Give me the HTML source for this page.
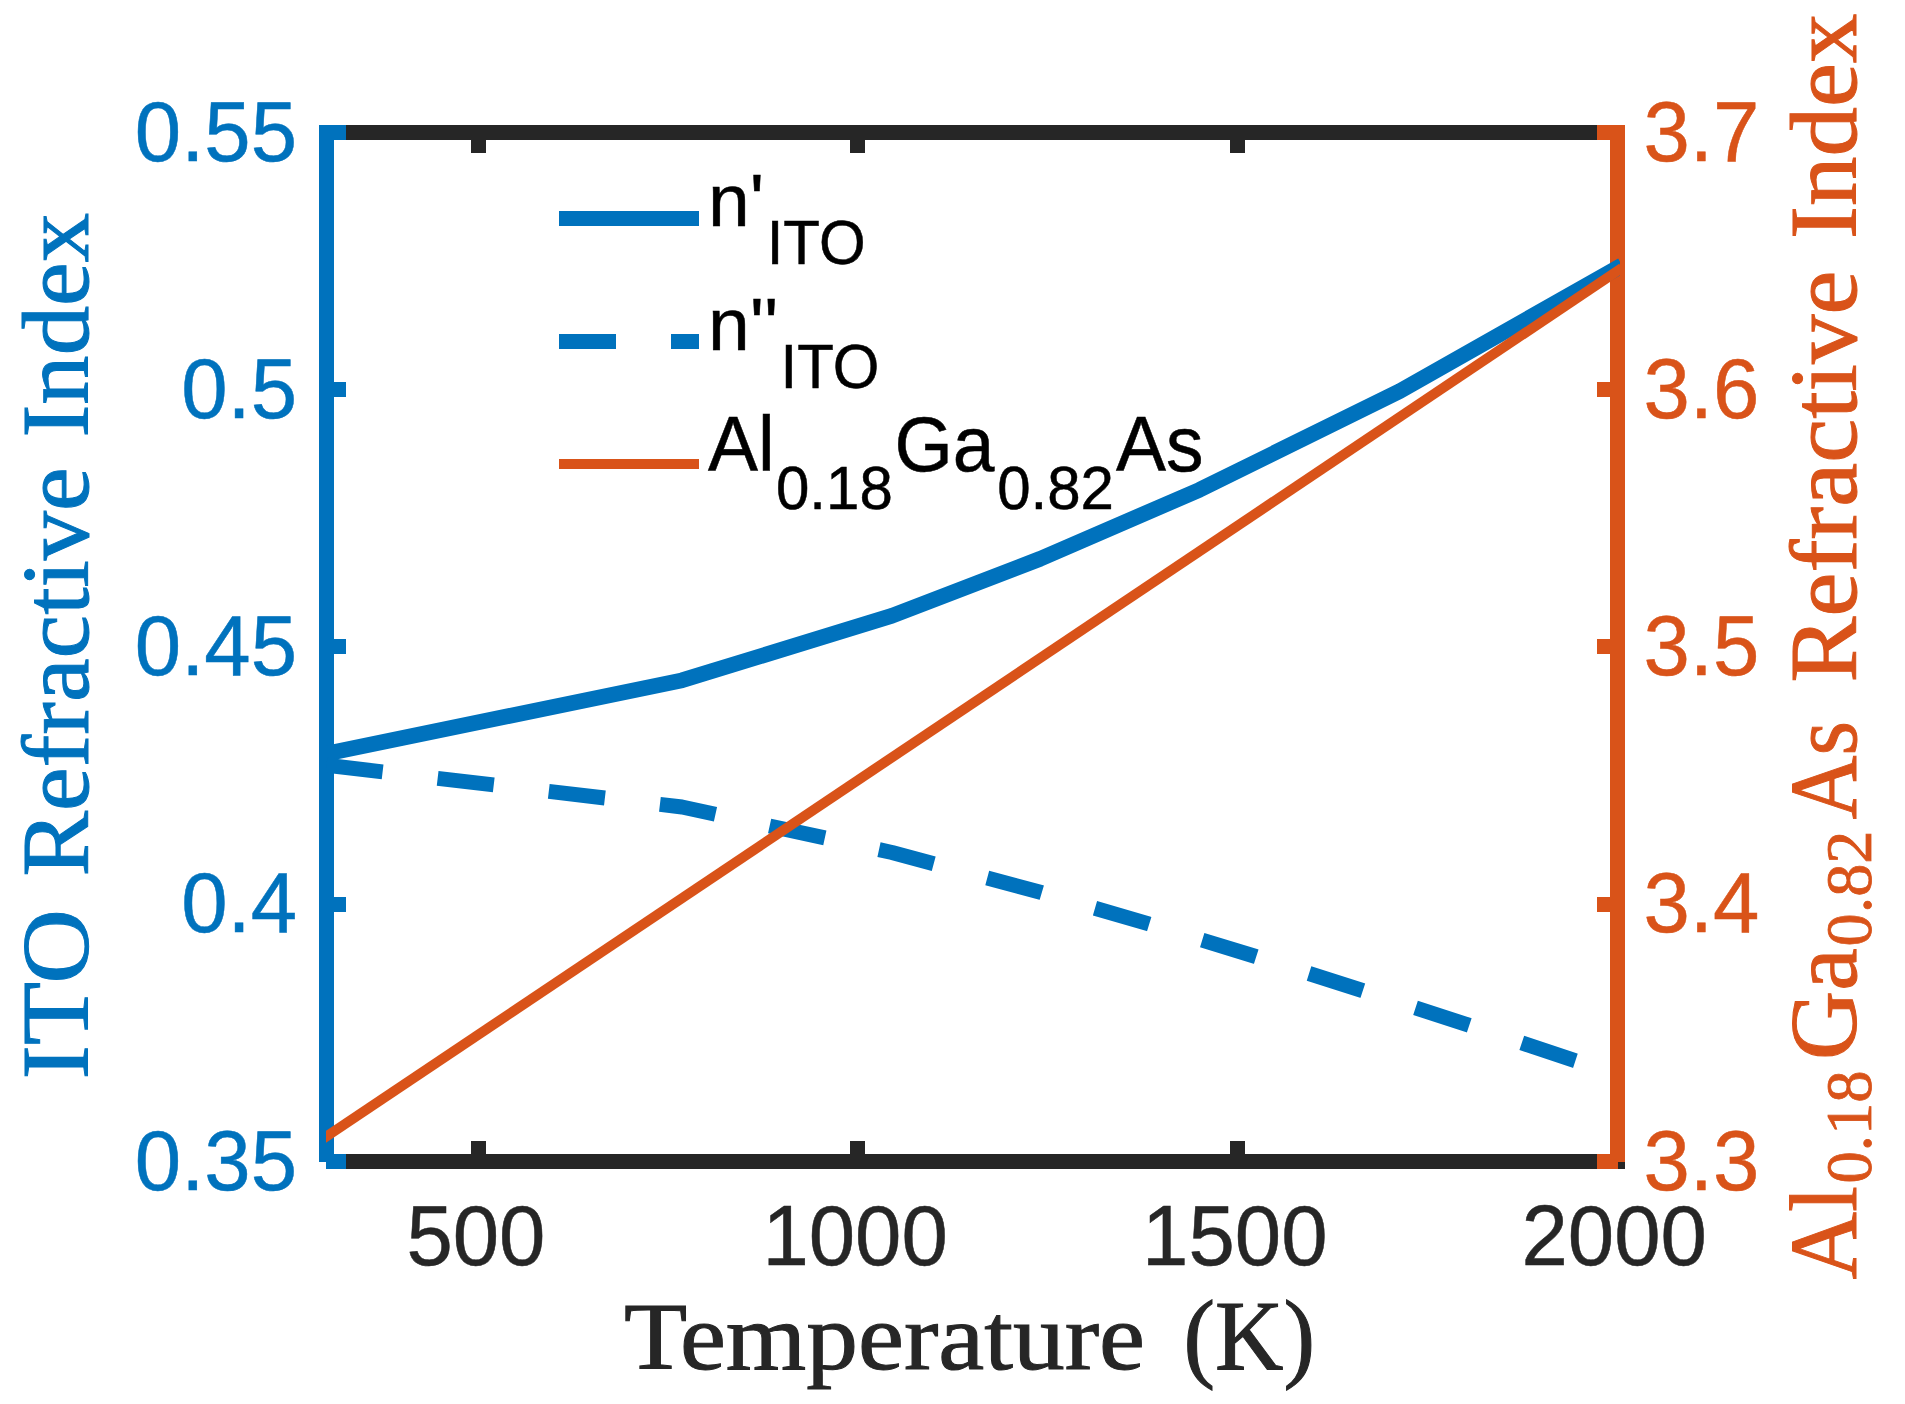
<!DOCTYPE html>
<html lang="en"><head><meta charset="utf-8"><title>Refractive index vs temperature</title>
<style>html,body{margin:0;padding:0;background:#fff}svg{display:block}.t{font-family:"Liberation Sans",sans-serif}.s{font-family:"Liberation Serif",serif}</style></head><body>
<svg width="1905" height="1404" viewBox="0 0 1905 1404">
<rect width="1905" height="1404" fill="#fff"/>
<g shape-rendering="crispEdges">
<rect x="346" y="125" width="1251" height="15" fill="#262626"/>
<rect x="346" y="1154" width="1251" height="15" fill="#262626"/>
<rect x="471.0" y="139" width="15" height="14" fill="#262626"/>
<rect x="471.0" y="1141" width="15" height="14" fill="#262626"/>
<rect x="850.0" y="139" width="15" height="14" fill="#262626"/>
<rect x="850.0" y="1141" width="15" height="14" fill="#262626"/>
<rect x="1230.0" y="139" width="15" height="14" fill="#262626"/>
<rect x="1230.0" y="1141" width="15" height="14" fill="#262626"/>
<rect x="319" y="125" width="15" height="1036.5" fill="#0072BD"/>
<rect x="319" y="125" width="27" height="15" fill="#0072BD"/>
<rect x="326" y="1154" width="20" height="15" fill="#0072BD"/>
<rect x="333" y="382.0" width="13" height="15" fill="#0072BD"/>
<rect x="333" y="639.0" width="13" height="15" fill="#0072BD"/>
<rect x="333" y="897.0" width="13" height="15" fill="#0072BD"/>
<rect x="1618" y="1161" width="7" height="8" fill="#262626"/>
<rect x="1610" y="125" width="15" height="1036.5" fill="#D95319"/>
<rect x="1597" y="125" width="28" height="15" fill="#D95319"/>
<rect x="1597" y="1154" width="21" height="15" fill="#D95319"/>
<rect x="1597" y="382.0" width="14" height="15" fill="#D95319"/>
<rect x="1597" y="639.0" width="14" height="15" fill="#D95319"/>
<rect x="1597" y="897.0" width="14" height="15" fill="#D95319"/>
</g>
<defs><clipPath id="c"><rect x="326" y="120" width="1294" height="1055"/></clipPath></defs>
<g clip-path="url(#c)" fill="none" stroke-linejoin="round">
<polyline points="316.0,755.8 326.5,753.6 682.0,680.3 892.0,615.8 1040.0,558.9 1199.5,489.8 1400.0,391.0 1622.0,265.3" stroke="#0072BD" stroke-width="15.6"/>
<polyline points="326.5,765.3 682.0,807.0 892.0,852.5 1041.3,892.5 1148.7,923.9 1255.7,956.5 1362.3,990.5 1468.7,1025.2 1575.0,1060.7 1617.5,1074.6" stroke="#0072BD" stroke-width="15" stroke-dasharray="56.5 55.4"/>
<polyline points="316.0,1143.5 1622.0,268.0" stroke="#D95319" stroke-width="10"/>
</g>
<g shape-rendering="crispEdges">
<rect x="559" y="211" width="140" height="15" fill="#0072BD"/>
<rect x="559" y="334" width="57" height="15" fill="#0072BD"/>
<rect x="671" y="334" width="28" height="15" fill="#0072BD"/>
<rect x="559" y="458.5" width="140" height="10.5" fill="#D95319"/>
</g>
<g class="t" fill="#000" stroke="#000" stroke-width="0.5">
<text x="708.0" y="225.6" font-size="75">n'</text>
<text transform="translate(766.7,263.8) scale(1,1.055)" font-size="60">ITO</text>
<text x="708.0" y="349.6" font-size="75">n''</text>
<text transform="translate(780.5,387.8) scale(1,1.055)" font-size="60">ITO</text>
<text transform="translate(708.0,471.0) scale(1,1.035)" font-size="75">Al</text>
<text transform="translate(776.0,508.5) scale(1,1.03)" font-size="60">0.18</text>
<text transform="translate(894.5,471.0) scale(1,1.035)" font-size="75">Ga</text>
<text transform="translate(997.2,508.5) scale(1,1.03)" font-size="60">0.82</text>
<text transform="translate(1116.1,471.0) scale(1,1.035)" font-size="75">As</text>
</g>
<g class="t" font-size="83.33" fill="#0072BD" stroke="#0072BD" stroke-width="0.5" text-anchor="end">
<text transform="translate(297,160.6) scale(1,1.03)">0.55</text>
<text transform="translate(297,417.8) scale(1,1.03)">0.5</text>
<text transform="translate(297,675.1) scale(1,1.03)">0.45</text>
<text transform="translate(297,932.3) scale(1,1.03)">0.4</text>
<text transform="translate(297,1189.6) scale(1,1.03)">0.35</text>
</g>
<g class="t" font-size="83.33" fill="#D95319" stroke="#D95319" stroke-width="0.5">
<text transform="translate(1643.5,1189.6) scale(1,1.03)">3.3</text>
<text transform="translate(1643.5,932.4) scale(1,1.03)">3.4</text>
<text transform="translate(1643.5,675.1) scale(1,1.03)">3.5</text>
<text transform="translate(1643.5,417.9) scale(1,1.03)">3.6</text>
<text transform="translate(1643.5,160.6) scale(1,1.03)">3.7</text>
</g>
<g class="t" font-size="83.33" fill="#262626" stroke="#262626" stroke-width="0.5" text-anchor="middle">
<text transform="translate(475.9,1264.6) scale(1,1.03)">500</text>
<text transform="translate(855.1,1264.6) scale(1,1.03)">1000</text>
<text transform="translate(1234.8,1264.6) scale(1,1.03)">1500</text>
<text transform="translate(1614.2,1264.6) scale(1,1.03)">2000</text>
</g>
<g class="s" font-size="95" fill="#262626" stroke="#262626" stroke-width="1">
<text x="624" y="1368.5" textLength="521" lengthAdjust="spacingAndGlyphs">Temperature</text>
<text transform="translate(1183.5,1369.2) scale(1,1.04)" textLength="131.5" lengthAdjust="spacingAndGlyphs">(K)</text>
</g>
<g class="s" font-size="95" fill="#0072BD" stroke="#0072BD" stroke-width="1" transform="translate(88,0) rotate(-90)">
<text x="-1079.5" y="0" textLength="170.5" lengthAdjust="spacingAndGlyphs">ITO</text>
<text x="-876.5" y="0" textLength="409.0" lengthAdjust="spacingAndGlyphs">Refractive</text>
<text x="-437.5" y="0" textLength="224.5" lengthAdjust="spacingAndGlyphs">Index</text>
</g>
<g class="s" font-size="95" fill="#D95319" stroke="#D95319" stroke-width="1" transform="translate(1856,0) rotate(-90)">
<text x="-1279.5" y="0" textLength="93.5" lengthAdjust="spacingAndGlyphs">Al</text>
<text x="-1060.0" y="0" textLength="112.0" lengthAdjust="spacingAndGlyphs">Ga</text>
<text x="-819.5" y="0" textLength="98.5" lengthAdjust="spacingAndGlyphs">As</text>
<text x="-682.5" y="0" textLength="412.0" lengthAdjust="spacingAndGlyphs">Refractive</text>
<text x="-239.0" y="0" textLength="225.6" lengthAdjust="spacingAndGlyphs">Index</text>
</g>
<g class="s" font-size="66" fill="#D95319" stroke="#D95319" stroke-width="0.8" transform="translate(1871,0) rotate(-90)">
<text x="-1183.5" y="0" textLength="113.0" lengthAdjust="spacingAndGlyphs">0.18</text>
<text x="-946.5" y="0" textLength="116.0" lengthAdjust="spacingAndGlyphs">0.82</text>
</g>
</svg></body></html>
